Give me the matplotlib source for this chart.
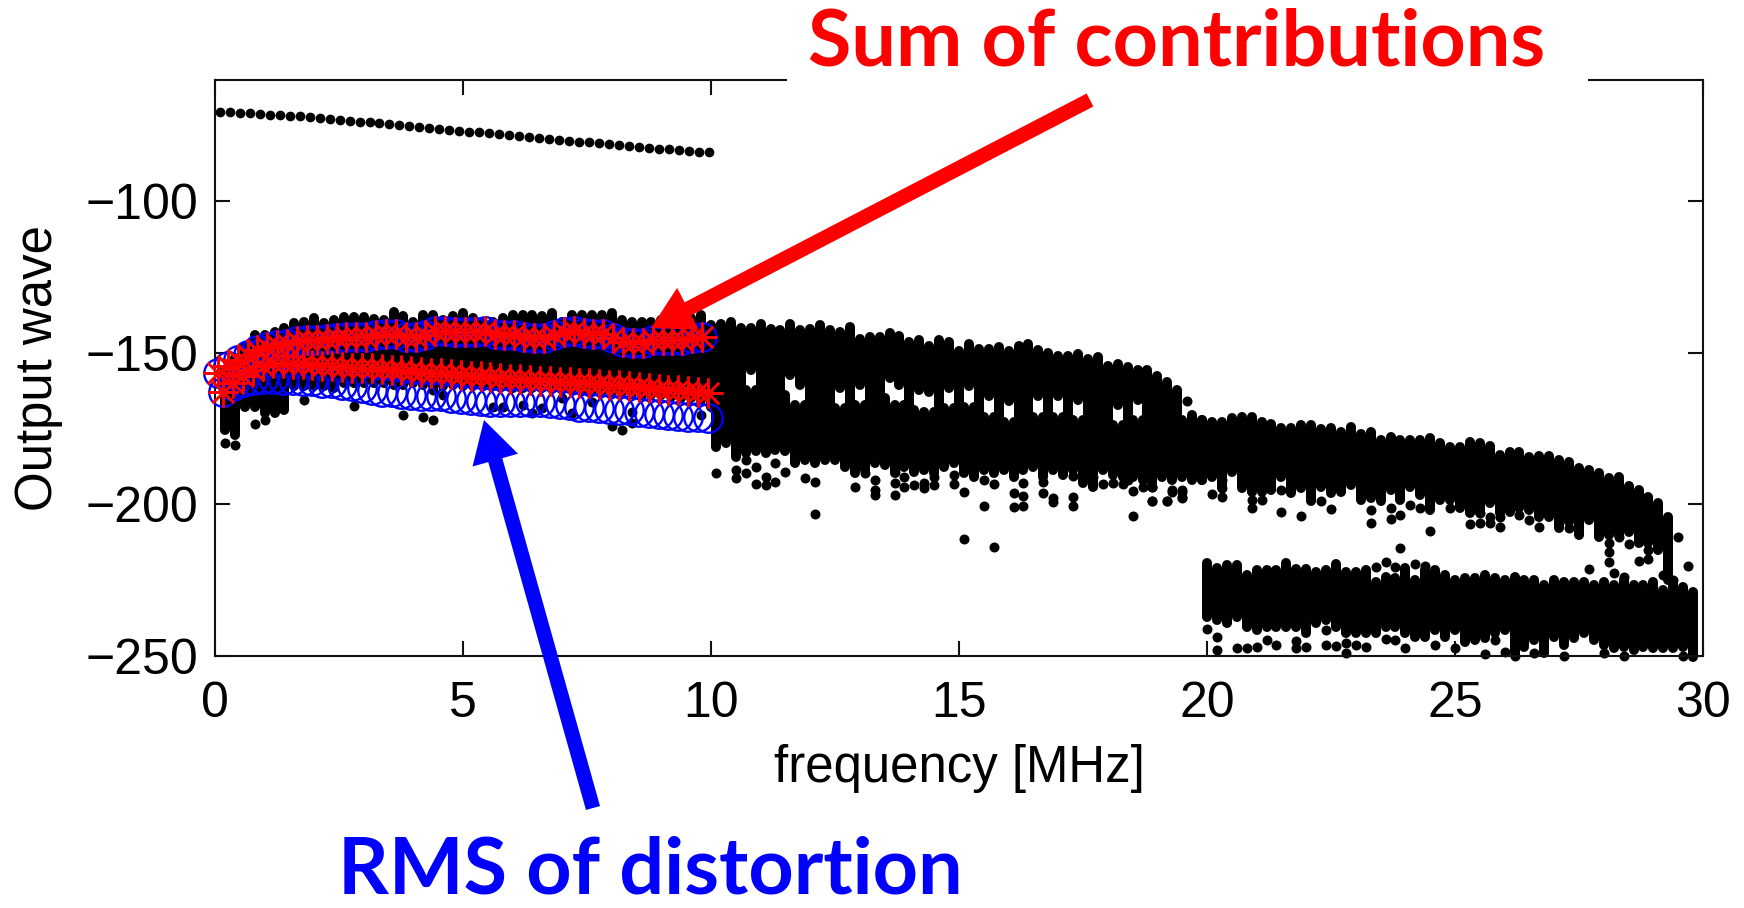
import numpy as np
from matplotlib import pyplot as plt
from matplotlib import patches as patches

# isolated top trace, 0 - 10 MHz
line_top = [-70.6, -70.7, -70.9, -71.0, -71.2, -71.4, -71.6, -71.8, -72.0, -72.3,
            -72.6, -72.8, -73.1, -73.4, -73.7, -74.0, -74.3, -74.6, -74.9, -75.2,
            -75.5, -75.8, -76.1, -76.4, -76.7, -77.0, -77.3, -77.6, -77.9, -78.2,
            -78.5, -78.8, -79.1, -79.4, -79.7, -80.0, -80.3, -80.6, -80.9, -81.2,
            -81.5, -81.8, -82.0, -82.3, -82.6, -82.9, -83.1, -83.3, -83.6, -83.8]

# dot columns, 0.2 - 9.8 MHz
band0_hi = [-155.6, -151.8, -147.9, -144.0, -144.0, -143.0, -141.9, -140.2, -139.7, -138.6,
            -140.2, -139.1, -138.2, -138.2, -138.2, -138.9, -139.1, -136.4, -138.0, -139.7,
            -137.5, -137.5, -139.1, -138.0, -136.9, -138.6, -139.7, -139.7, -138.6, -137.5,
            -137.5, -137.5, -138.0, -136.9, -139.7, -137.5, -137.5, -137.5, -137.5, -136.9,
            -139.1, -139.7, -139.7, -139.7, -139.1, -139.1, -139.7, -138.6, -137.5]
band0_lo = [-175.4, -177.0, -167.7, -167.7, -169.9, -169.9, -168.8,
            -161.0, -161.0, -161.0, -161.0, -161.5, -160.0, -160.0, -160.0, -160.0, -160.0,
            -160.5, -160.5, -160.0, -160.5, -161.0, -161.0, -160.5, -161.0, -161.0, -161.0,
            -161.0, -161.0, -161.5, -161.5, -161.5, -161.5, -162.0, -162.0, -162.0, -162.5,
            -162.5, -163.0, -163.0, -163.0, -163.5, -164.0, -164.0, -164.0, -164.5, -165.0,
            -165.0, -165.5]

# dot columns, upper group 10.0 - 19.4 MHz
band1_hi = [-140.8, -140.4, -139.9, -141.9, -141.9, -140.4, -142.0, -142.4, -140.4, -142.6,
            -142.2, -140.8, -142.4, -143.2, -141.5, -145.5, -144.9, -144.9, -143.5, -144.3,
            -146.3, -145.7, -147.6, -145.7, -146.3, -149.5, -147.0, -148.7, -148.7, -148.1,
            -149.5, -147.7, -147.0, -149.2, -149.9, -151.2, -151.2, -150.3, -152.0, -151.4,
            -154.2, -153.6, -154.8, -155.8, -155.8, -157.8, -159.7, -162.2]
band1_lo = [-167.7, -167.9, -168.1, -168.4, -155.6, -168.8, -169.0, -169.2, -157.3, -160.6,
            -169.9, -170.1, -170.3, -161.7, -170.8, -160.6, -171.2, -171.4, -158.4, -160.6,
            -171.7, -162.2, -162.8, -172.8, -161.7, -173.2, -161.1, -173.6, -164.4, -174.1,
            -166.0, -174.5, -174.7, -164.4, -175.2, -164.4, -175.4, -165.5, -175.4, -175.4,
            -175.4, -167.2, -175.4, -165.5, -175.4, -175.4, -175.4, -175.4]

# dot columns, lower group 10.1 - 19.9 MHz
band2_hi = [-164.4, -164.6, -164.8, -162.2, -162.2, -165.5, -165.7, -163.9, -167.2, -167.2,
            -166.6, -166.8, -168.3, -168.3, -167.2, -167.2, -167.9, -164.9, -167.2, -167.2,
            -168.8, -169.4, -169.4, -168.3, -168.3, -167.7, -167.7, -171.0, -171.0, -172.7,
            -172.7, -171.2, -171.0, -171.0, -171.0, -171.0, -172.1, -172.1, -172.1, -172.1,
            -173.8, -173.8, -172.1, -172.1, -172.1, -172.1, -172.1, -172.1, -172.1, -172.1]
band2_lo = [-180.9, -179.8, -184.2, -183.1, -182.5, -183.1, -182.0, -182.5, -186.4, -185.3,
            -186.4, -185.3, -185.3, -187.5, -189.7, -188.6, -186.4, -187.0, -189.7, -187.5,
            -189.2, -188.6, -189.7, -187.5, -186.4, -189.7, -190.8, -188.6, -189.7, -188.6,
            -190.8, -188.6, -187.5, -190.8, -188.6, -190.3, -188.6, -193.0, -194.1, -188.6,
            -190.3, -190.8, -190.8, -191.9, -193.0, -190.8, -191.9, -190.8, -190.8, -191.9]

# dot columns, upper group 19.7 - 29.3 MHz
band3_hi = [-170.5, -172.1, -172.7, -172.7, -171.6, -171.0, -171.2, -172.7, -173.4, -174.9,
            -174.9, -173.8, -173.8, -175.2, -174.9, -176.2, -174.5, -176.8, -176.2, -178.9,
            -177.6, -178.7, -178.7, -178.7, -178.2, -179.8, -180.9, -180.9, -179.3, -179.8,
            -180.7, -183.7, -182.6, -182.8, -184.4, -184.0, -184.0, -185.3, -185.9, -188.1,
            -188.6, -189.5, -191.4, -191.0, -193.9, -195.2, -197.4, -199.6, -204.0]
band3_lo = [-191.9, -191.9, -190.8, -194.7, -189.2, -194.7, -195.8, -195.8, -195.2, -190.8,
            -196.3, -194.7, -199.0, -194.1, -196.3, -195.8, -193.6, -198.5, -198.0, -199.0,
            -195.2, -198.5, -194.1, -196.9, -201.8, -198.5, -198.5, -201.3, -202.9, -202.9,
            -199.6, -202.9, -202.4, -201.3, -201.8, -204.0, -204.0, -207.9, -205.7, -210.0,
            -205.1, -210.6, -210.0, -210.0, -209.0, -212.8, -212.8, -215.0, -224.9]

# dot columns, lower group 20.0 - 29.8 MHz
band4_hi = [-219.4, -221.1, -220.0, -220.0, -223.3, -221.6, -221.6, -221.6, -219.4, -221.4,
            -221.4, -222.2, -221.6, -219.7, -222.2, -222.2, -221.6, -225.5, -223.8, -224.4,
            -221.1, -224.9, -221.6, -221.6, -223.3, -224.9, -224.4, -224.4, -223.3, -224.4,
            -224.9, -223.8, -224.9, -224.9, -226.6, -224.9, -225.5, -225.5, -225.5, -226.6,
            -225.5, -226.6, -224.9, -226.6, -226.6, -225.7, -228.2, -226.0, -227.1, -228.8]
band4_lo = [-237.0, -238.1, -239.2, -237.0, -240.3, -241.4, -240.3, -240.3, -240.3, -240.3,
            -242.5, -239.2, -238.1, -240.3, -242.5, -242.5, -242.5, -242.5, -240.3, -240.3,
            -242.5, -243.6, -243.6, -241.4, -243.6, -241.4, -245.3, -244.7, -244.2, -242.5,
            -241.4, -249.1, -246.9, -244.7, -249.1, -243.6, -246.4, -244.2, -242.5, -244.7,
            -246.4, -247.5, -246.9, -248.0, -246.9, -247.5, -247.5, -247.5, -246.9, -250.2]

# lone dots
lone_f = [0.2, 0.4, 0.8, 1.0, 1.8, 2.8, 3.8, 4.2, 4.4, 8.0, 8.2, 8.4,
          4.4, 4.6, 5.6, 5.8, 6.2, 6.4, 6.6, 7.0, 7.2, 7.6, 8.4, 9.8,
          10.1, 10.5, 10.5, 10.7, 10.7, 10.9, 10.9, 11.1, 11.1, 11.3, 11.3, 11.5, 11.9,
          12.1, 12.1, 12.9, 13.1, 13.3, 13.3, 13.3, 13.7, 13.7, 13.7, 13.9, 13.9, 14.1,
          14.3, 14.3, 14.5, 14.5, 14.9, 14.9, 15.1, 15.1, 15.5, 15.5, 15.7, 15.7,
          16.1, 16.1, 16.3, 16.3, 16.3, 16.7, 16.7, 16.9, 16.9, 17.3, 17.3, 17.3,
          17.7, 17.9, 18.1, 18.3, 18.4, 18.5, 18.5, 18.7, 18.9, 18.9, 19.2, 19.3,
          19.5, 19.5, 19.6,
          18.9, 18.9, 19.2, 19.3, 19.5, 19.5, 20.1, 20.3, 20.3, 20.3, 20.9, 20.9, 21.1,
          21.5, 21.5, 21.9, 22.3, 22.5, 23.3, 23.3, 23.7, 23.7, 23.9, 24.1, 24.3, 24.5,
          24.9, 25.3, 25.5, 25.5, 25.7, 25.7, 25.9, 25.9, 26.3, 26.5, 26.7, 27.3, 27.7,
          28.1, 28.1, 28.1, 28.2, 28.4, 28.3, 28.5, 28.7, 28.7, 28.9, 28.9, 29.2, 29.4,
          29.5, 29.7,
          20.0, 20.2, 20.2, 20.6, 20.8, 21.0, 21.2, 21.4, 21.8, 21.8, 22.0, 22.4, 22.4,
          22.6, 22.8, 22.8, 23.0, 23.2, 23.6, 23.8, 24.0, 24.6, 25.0, 25.6, 25.8, 26.0,
          26.2, 26.6, 27.2, 28.0, 28.4, 29.6,
          23.4, 23.6, 23.8, 23.9, 24.2, 24.4]
lone_v = [-179.8, -180.4, -173.4, -172.3, -165.5, -167.5, -170.5, -171.0, -172.3, -174.0, -175.4, -173.2,
          -162.2, -163.8, -167.7, -167.7, -167.2, -169.9, -168.3, -165.0, -169.9, -166.1, -169.4, -170.5,
          -189.6, -188.8, -191.4, -185.3, -189.7, -187.7, -193.3, -190.8, -193.6, -186.4, -192.7, -189.2, -191.4,
          -192.7, -203.2, -194.1, -189.7, -191.9, -195.2, -196.9, -189.2, -193.0, -196.9, -190.8, -194.3, -193.6,
          -193.0, -194.7, -190.8, -193.6, -190.3, -193.3, -196.0, -211.5, -191.9, -200.5, -193.3, -213.9,
          -196.1, -201.0, -192.8, -197.2, -200.4, -192.5, -196.3, -198.0, -199.3, -190.5, -197.6, -200.4,
          -191.1, -193.3, -193.0, -193.3, -191.9, -195.5, -203.7, -194.3, -194.3, -199.0, -199.0, -195.8,
          -195.8, -197.7, -165.8,
          -194.3, -199.0, -199.0, -195.2, -195.2, -198.0, -196.6, -191.9, -194.7, -197.4, -198.5, -201.3, -198.5,
          -195.2, -202.4, -203.8, -199.0, -201.5, -201.8, -206.2, -201.3, -204.9, -203.5, -200.2, -201.3, -208.7,
          -201.3, -206.4, -202.9, -206.2, -204.0, -206.2, -204.2, -207.5, -203.5, -205.3, -207.3, -207.9, -221.3,
          -212.8, -215.6, -219.1, -222.5, -223.8, -210.6, -213.0, -210.6, -218.6, -215.0, -218.1, -223.3, -224.9,
          -210.6, -220.2,
          -241.1, -243.6, -248.0, -247.5, -247.5, -246.9, -244.7, -246.4, -244.9, -247.5, -246.9, -241.4, -246.4,
          -246.6, -245.8, -249.1, -246.4, -247.1, -244.4, -244.7, -247.2, -246.4, -247.5, -249.3, -244.7, -248.6,
          -250.0, -249.1, -250.0, -249.1, -250.0, -250.0,
          -220.5, -219.1, -220.5, -214.5, -219.6, -220.2]

# contributions, 0 - 10 MHz
blue_upper = [-156.5, -154.5, -152.2, -150.7, -149.2, -148.2, -147.5, -147.0, -146.2, -145.7,
              -145.7, -145.5, -145.2, -144.7, -144.7, -144.7, -144.2, -143.7, -143.7, -144.7,
              -144.7, -144.2, -142.7, -142.7, -143.2, -143.2, -143.0, -142.7, -143.7, -144.2,
              -144.2, -144.7, -145.0, -145.0, -144.2, -143.2, -142.7, -143.4, -143.7, -143.9,
              -145.2, -146.5, -146.7, -146.9, -145.7, -145.7, -145.7, -145.7, -145.2, -144.7]
blue_lower = [-162.8, -161.0, -159.5, -158.9, -158.7, -158.7, -158.9, -159.0, -159.2, -159.4,
              -159.8, -160.0, -160.5, -161.0, -161.5, -162.2, -162.8, -163.0, -163.5, -163.9,
              -164.1, -164.2, -164.4, -164.8, -165.2, -165.7, -166.0, -166.2, -166.3, -166.3,
              -166.3, -166.3, -166.3, -166.5, -166.8, -167.2, -167.7, -168.0, -168.3, -168.5,
              -168.7, -169.0, -169.4, -169.9, -170.2, -170.4, -170.7, -171.0, -171.2, -171.5]
red_lower = [-162.8, -160.0, -157.5, -155.6, -154.5, -153.5, -153.4, -153.6, -153.7, -154.0,
             -154.2, -154.4, -154.7, -155.0, -155.0, -155.1, -155.3, -155.5, -155.8, -156.0,
             -156.2, -156.5, -156.6, -156.9, -157.2, -157.5, -157.8, -158.0, -158.3, -158.5,
             -158.7, -159.0, -159.2, -159.4, -159.5, -159.7, -159.9, -160.1, -160.3, -160.5,
             -160.6, -161.0, -161.2, -161.5, -161.8, -162.1, -162.4, -162.7, -163.0, -163.3]

x_ticks = [0, 5, 10, 15, 20, 25, 30]
y_ticks = [-100, -150, -200, -250]

W, H = 1744, 908
plt.rcParams["font.family"] = ["Liberation Sans", "DejaVu Sans"]
fig = plt.figure(figsize=(W / 100, H / 100), dpi=100)
ax = fig.add_axes([215 / W, 1 - 656 / H, 1488 / W, 576 / H])

f_top = np.linspace(0.1, 9.95, len(line_top))
ax.plot(f_top, line_top, "o", color="k", ms=7.0, mew=0, zorder=2)

# the dense dots read as solid round-ended columns
col = dict(colors="k", linewidth=7.2, capstyle="round", zorder=2, clip_on=False)
ax.vlines(0.2 + 0.2 * np.arange(len(band0_hi)), band0_lo, band0_hi, **col)
ax.vlines(10.0 + 0.2 * np.arange(len(band1_hi)), band1_lo, band1_hi, **col)
ax.vlines(10.1 + 0.2 * np.arange(len(band2_hi)), band2_lo, band2_hi, **col)
ax.vlines(19.7 + 0.2 * np.arange(len(band3_hi)), band3_lo, band3_hi, **col)
ax.vlines(20.0 + 0.2 * np.arange(len(band4_hi)), band4_lo, band4_hi, **col)
ax.plot(lone_f, lone_v, "o", color="k", ms=7.2, mew=0, zorder=2, clip_on=False)

f_upper = np.linspace(0.06, 9.82, len(blue_upper))
f_lower = np.linspace(0.17, 9.94, len(blue_lower))
ax.plot(f_upper, blue_upper, "o", mfc="none", mec="#0000ff", ms=20.5, mew=1.7, zorder=3, clip_on=False)
ax.plot(f_lower, blue_lower, "o", mfc="none", mec="#0000ff", ms=20.5, mew=1.7, zorder=3, clip_on=False)
star = (8, 2, 0)
ax.plot(f_upper, blue_upper, ls="none", marker=star, mec="#ff0000", ms=21.5, mew=1.8, zorder=4, clip_on=False)
ax.plot(f_lower, red_lower, ls="none", marker=star, mec="#ff0000", ms=21.5, mew=1.8, zorder=4, clip_on=False)

ax.set_xlim(0, 30)
ax.set_ylim(-250, -60)
ax.set_xticks(x_ticks)
ax.set_yticks(y_ticks)
ax.tick_params(direction="in", length=11, width=1.5, top=True, right=True, labelsize=36, color="#111111")
ax.tick_params(axis="x", pad=18)
ax.tick_params(axis="y", pad=12)
for s in ax.spines.values():
    s.set_linewidth(1.5)
    s.set_color("#111111")
ax.set_xlabel("frequency [MHz]", fontsize=36.7, labelpad=12)
ax.set_ylabel("Output wave", fontsize=36.7, labelpad=16)

# white block behind the title cuts the top frame
fig.add_artist(patches.Rectangle((787 / W, 1 - 95 / H), 801 / W, 95 / H, transform=fig.transFigure,
                                 fc="white", ec="none", zorder=5))
fig.text(1177 / W, 1 - 43 / H, "Sum of contributions", color="#ff0000", fontsize=57, fontweight="bold",
         family="Lato", ha="center", va="center", zorder=6)
fig.text(650 / W, 1 - 893 / H, "RMS of distortion", color="#0000ff", fontsize=57, fontweight="bold",
         family="Lato", ha="center", va="baseline", zorder=6)

for tail, tip, c in [((1090, 100), (651, 328), "#ff0000"), ((593, 808), (484, 420), "#0000ff")]:
    arrow = patches.FancyArrowPatch((tail[0] / W, 1 - tail[1] / H), (tip[0] / W, 1 - tip[1] / H),
                                    transform=fig.transFigure, shrinkA=0, shrinkB=0, mutation_scale=1,
                                    arrowstyle="simple,head_length=30,head_width=34,tail_width=10.5",
                                    fc=c, ec="none", zorder=5)
    fig.add_artist(arrow)

plt.savefig("out.png", dpi=100)
